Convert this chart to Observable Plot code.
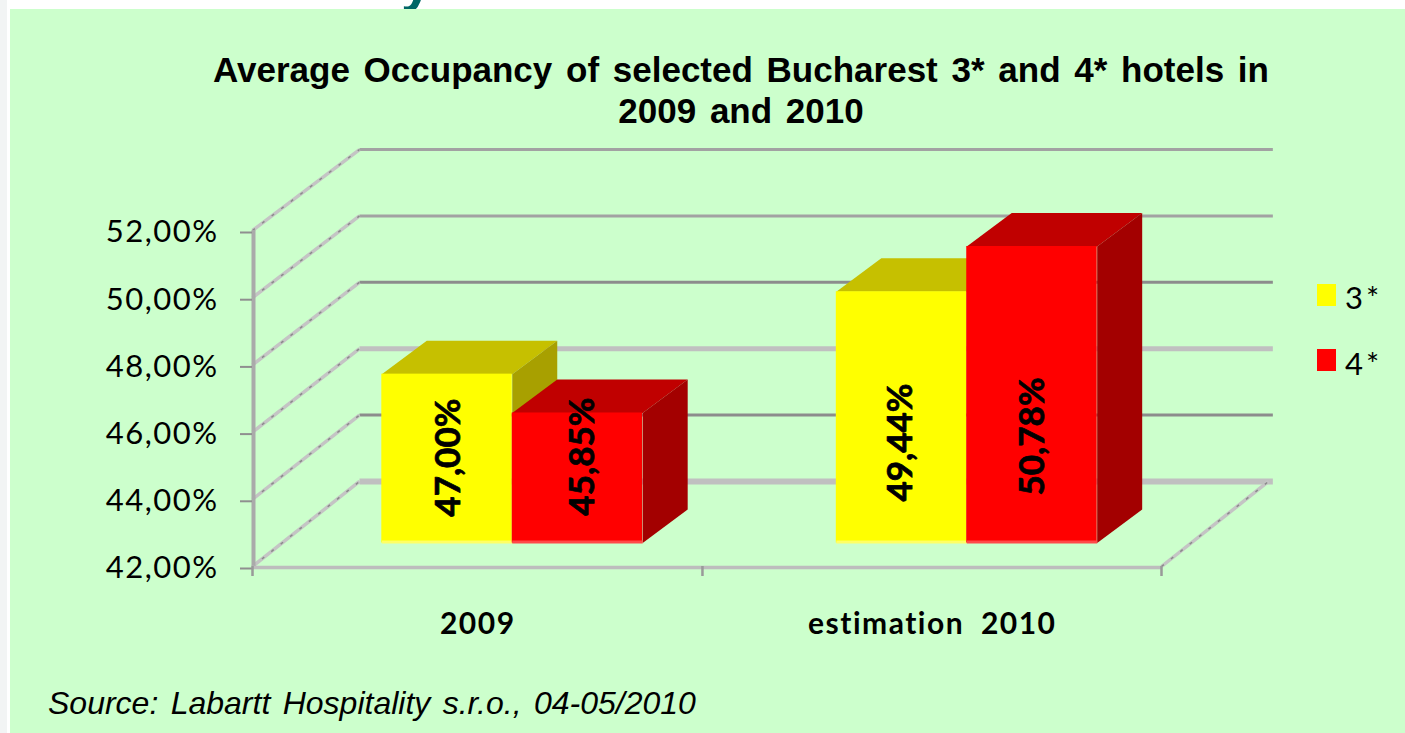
<!DOCTYPE html>
<html><head><meta charset="utf-8">
<script src="https://cdn.jsdelivr.net/npm/d3@7"></script>
<script src="https://cdn.jsdelivr.net/npm/@observablehq/plot@0.6"></script>
<style>
html,body{margin:0;padding:0;background:#fff;width:1405px;height:733px;overflow:hidden}
#page{position:absolute;left:0;top:0;width:1405px;height:733px;overflow:hidden}
#strip{position:absolute;left:0;top:0;width:7px;height:733px;background:#f2f4f4}
#panel{position:absolute;left:10px;top:9px;right:0;bottom:0;background:#ccffcc}
#clip{position:absolute;left:396px;top:0;width:30px;height:9px;overflow:hidden}
#clip span{position:absolute;left:5px;top:-52px;font:bold 56px "Liberation Sans";color:#006666}
.t{position:absolute;white-space:nowrap;color:#000}
#title{left:141px;width:1200px;text-align:center;top:49px;font:bold 35px/41px "Liberation Sans";word-spacing:4px}
#source{left:48px;top:685px;font:italic 32px "Liberation Sans";word-spacing:3.5px}
.sw{position:absolute;left:1317px;width:19px;height:22px}
.lg{left:1345px;font:31px "Lato";letter-spacing:3px}
#chart svg g[aria-label="y-axis tick label"] text{letter-spacing:1.5px}
#chart svg g[aria-label="x-axis tick label"] text{letter-spacing:1.5px;word-spacing:8px}
</style></head>
<body><div id="page"><div id="strip"></div><div id="panel"></div>
<div id="clip"><span>y</span></div>
<div id="chart"></div>
<div class="t" id="title">Average Occupancy of selected Bucharest 3* and 4* hotels in<br>2009 and 2010</div>
<div class="t" id="source">Source: Labartt Hospitality s.r.o., 04-05/2010</div>
<div class="sw" style="top:284px;background:#ffff00"></div><div class="t lg" style="top:278px">3*</div>
<div class="sw" style="top:349px;background:#ff0000"></div><div class="t lg" style="top:344px">4*</div>
</div>
<script>
const categories = ["2009", "estimation 2010"];
const values3 = [47.00, 49.44];
const values4 = [45.85, 50.78];
const levels = [42, 44, 46, 48, 50, 52];
const labelLevels = [45.24, 45.27, 45.69, 45.87];
const labelShift = [0.002, 0.01, -0.004, 0];

// Style and projection settings (data units of the x and y scales)
const gridStyle = {42:["#c0c0c0",6],44:["#8c8c8c",3],46:["#c0c0c0",5],48:["#8c8c8c",3],50:["#a2a2a2",3],52:["#a2a2a2",3]};
const base = 42, halfWidth = 0.287;
const frontX = 0.0715, frontY = 0.70, barK = 1.005;
const depthX = 0.099, depthY = 0.997;
const wallX = 0.2354, wallY = 2.53, wallK = 0.988, wallEnd = 2.245;
const colors = [{front:"#ffff00",top:"#c6c000",side:"#a8a000",edge:"#ffff66"},{front:"#ff0000",top:"#c00000",side:"#a30000",edge:"#ff4848"}];
const fmt = d => d.toFixed(2).replace(".", ",") + "%";
const wall = v => base + (v - base) * wallK + wallY;

const bars = categories.flatMap((c, i) => [
  {c, s:0, value:values3[i], x1:i+0.5-halfWidth, x2:i+0.5},
  {c, s:1, value:values4[i], x1:i+0.5, x2:i+0.5+halfWidth}
]).map((b, i) => ({...b,
  x1:b.x1+frontX, x2:b.x2+frontX,
  y1:base+frontY, y2:base+frontY+(b.value-base)*barK,
  labelX:(b.x1+b.x2)/2+frontX+labelShift[i],
  labelY:labelLevels[i]}));

function faces(b) {
  const c = colors[b.s];
  const top = [[b.x1,b.y2],[b.x2,b.y2],[b.x2+depthX,b.y2+depthY],[b.x1+depthX,b.y2+depthY]];
  const side = [[b.x2,b.y2],[b.x2+depthX,b.y2+depthY],[b.x2+depthX,b.y1+depthY],[b.x2,b.y1]];
  return [
    ...top.map(p => ({x:p[0], y:p[1], z:"top", f:c.top})),
    ...side.map(p => ({x:p[0], y:p[1], z:"side", f:c.side}))
  ];
}

const grid = levels.map(v => ({v, by:wall(v), c:gridStyle[v][0], w:gridStyle[v][1]}));
const diag = [...grid.map(g => ({x1:0, y1:g.v, x2:wallX, y2:g.by})), {x1:2, y1:42, x2:2+wallX, y2:wall(42)}];

const plot = Plot.plot({
  width:1405, height:733,
  marginLeft:252, marginRight:244, marginTop:230, marginBottom:167,
  x:{domain:[0,2]}, y:{domain:[42,52]},
  color:{type:"identity"},
  style:{background:"transparent", position:"absolute", left:"0", top:"0", overflow:"visible"},
  marks:[
    Plot.link(grid, {x1:wallX, x2:wallEnd, y1:"by", y2:"by", stroke:"c", strokeWidth:"w"}),
    Plot.link(diag, {x1:"x1", y1:"y1", x2:"x2", y2:"y2", stroke:"#c4c4c4", strokeWidth:3.5}),
    Plot.link(diag, {x1:"x1", y1:"y1", x2:"x2", y2:"y2", stroke:"#8a8a8a", strokeWidth:1.5, strokeDasharray:"3 9"}),
    Plot.ruleX([0], {y1:42, y2:52, stroke:"#aaaaaa", strokeWidth:4, dx:1}),
    Plot.ruleY([42], {x1:0, x2:2, stroke:"#bdbdbd", strokeWidth:3.5, dy:1}),
    Plot.axisY({ticks:levels, tickFormat:fmt, label:null, tickSize:12, tickPadding:22, fontSize:31,
      fontFamily:"Lato", stroke:"#8f8f8f", strokeWidth:2, fill:"#000", dy:2}),
    Plot.axisX({ticks:[0,0.99,2], tickFormat:() => "", label:null, tickSize:10, stroke:"#999", strokeWidth:2.5}),
    Plot.axisX({ticks:[0.5,1.5], tickFormat:i => categories[Math.floor(i)], label:null, tickSize:0, tickPadding:46,
      fontSize:30, fontWeight:"bold", fontFamily:"Lato", fill:"#000", stroke:"none", dx:-2}),
    ...bars.flatMap(b => [
      Plot.line(faces(b), {x:"x", y:"y", z:"z", fill:"f", stroke:"none"}),
      Plot.rect([b], {x1:"x1", x2:"x2", y1:"y1", y2:"y2", fill:colors[b.s].front}),
      Plot.link([b], {x1:"x1", x2:"x2", y1:"y1", y2:"y1", stroke:colors[b.s].edge, strokeWidth:3, dy:-1})
    ]),
    Plot.text(bars, {x:"labelX", y:"labelY", text:d => fmt(d.value), rotate:-90,
      fontSize:35, fontWeight:"bold", fontFamily:"Lato", fill:"#000", stroke:"#000", strokeWidth:0.7, paintOrder:"normal",
      dx:1, textAnchor:"middle", lineAnchor:"middle"})
  ]
});
document.getElementById("chart").appendChild(plot);
</script></body></html>
